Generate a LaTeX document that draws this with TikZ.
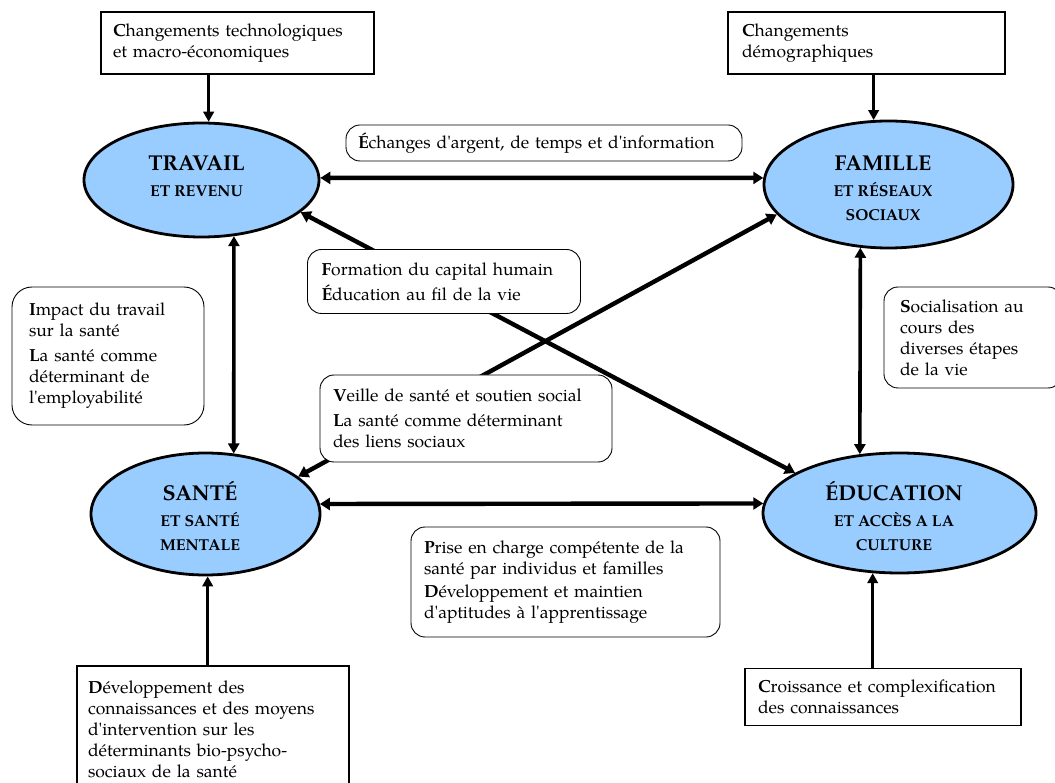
\documentclass[tikz,border=0pt]{standalone}
\usepackage{fontspec}
\setmainfont{TeX Gyre Pagella}
\usetikzlibrary{shapes.geometric,arrows.meta}
\pgfdeclarelayer{bg}
\pgfsetlayers{bg,main}
\definecolor{hubblue}{HTML}{99CCFF}
\newcommand{\ap}{\textquotesingle}
\tikzset{
  boxtext/.style={font=\fontsize{17.5}{21}\selectfont, align=left, inner ysep=0pt},
  sqbox/.style={boxtext, draw, line width=1.8pt, fill=white},
  rbox/.style={boxtext, draw, line width=0.9pt, rounded corners=14pt, fill=white},
  hub/.style={ellipse, draw, line width=2.8pt, fill=hubblue, inner sep=0pt},
  hubtext/.style={align=center, inner sep=0pt, font=\fontsize{15.8}{24}\bfseries\selectfont},
  link/.style={line width=4.4pt, {Triangle[length=10pt,width=12pt]}-{Triangle[length=10pt,width=12pt]}},
  vlink/.style={line width=3.6pt, {Triangle[length=10pt,width=11pt]}-{Triangle[length=10pt,width=11pt]}},
  feed/.style={line width=3pt, -{Triangle[length=10pt,width=10.5pt]}},
}
\begin{document}
\begin{tikzpicture}[x=1pt,y=-1pt]
\useasboundingbox (0,0) rectangle (1055,783);
\begin{pgfonlayer}{bg}
\fill[white] (0,0) rectangle (1055,783);
\end{pgfonlayer}

% hubs
\node[hub, minimum width=235pt, minimum height=114pt] (trav) at (201.5,180) {};
\node[hub, minimum width=249pt, minimum height=127pt] (fam) at (888.5,184.5) {};
\node[hub, minimum width=229pt, minimum height=122pt] (sant) at (205.5,514) {};
\node[hub, minimum width=273pt, minimum height=120pt] (edu) at (899.5,513) {};

\node[hubtext] (travt) at (196.5,176) {{\fontsize{21.5}{24}\selectfont TRAVAIL}\\[2pt] ET REVENU};
\node[hubtext] (famt) at (883,188.5) {{\fontsize{21.5}{24}\selectfont FAMILLE}\\[2pt] ET RÉSEAUX\\ SOCIAUX};
\node[hubtext] (santt) at (200,516) {{\fontsize{21.5}{24}\selectfont SANTÉ}\\[2pt] ET SANTÉ\\ MENTALE};
\node[hubtext] (edut) at (894,516) {{\fontsize{21.5}{24}\selectfont ÉDUCATION}\\[2pt] ET ACCÈS A LA\\ CULTURE};

% boxes
\node[sqbox, minimum width=273pt, minimum height=62pt, text width=249pt, inner xsep=12pt] (tl) at (237.5,43)
  {\textbf{C}hangements technologiques\\ et macro-économiques};
\node[sqbox, minimum width=277pt, minimum height=62pt, text width=249pt, inner xsep=14pt] (tr) at (866.5,43)
  {\textbf{C}hangements\\ démographiques};
\node[rbox, minimum width=396pt, minimum height=36pt, text width=372pt, inner xsep=12pt] (ech) at (544,143)
  {\textbf{É}changes d\ap argent, de temps et d\ap information};
\node[rbox, minimum width=273pt, minimum height=64pt, text width=245pt, inner xsep=14pt] (form) at (444,281.5)
  {\textbf{F}ormation du capital humain\\[4pt] \textbf{É}ducation au fil de la vie};
\node[rbox, rounded corners=20pt, minimum width=192pt, minimum height=138pt, text width=158pt, inner xsep=17pt] (imp) at (108,356)
  {\textbf{I}mpact du travail\\ sur la santé\\[4pt] \textbf{L}a santé comme\\ déterminant de\\ l\ap employabilité};
\node[rbox, minimum width=178pt, minimum height=101pt, text width=146pt, inner xsep=16pt] (soc) at (973,337.5)
  {\textbf{S}ocialisation au\\ cours des\\ diverses étapes\\ de la vie};
\node[rbox, minimum width=292pt, minimum height=87pt, text width=266pt, inner xsep=13pt] (veil) at (466,418.5)
  {\textbf{V}eille de santé et soutien social\\[4pt] \textbf{L}a santé comme déterminant\\ des liens sociaux};
\node[rbox, minimum width=309pt, minimum height=110pt, text width=283pt, inner xsep=13pt] (prise) at (565.5,582)
  {\textbf{P}rise en charge compétente de la\\ santé par individus et familles\\[2pt] \textbf{D}éveloppement et maintien\\ d\ap aptitudes à l\ap apprentissage};
\node[sqbox, minimum width=272pt, minimum height=126pt, text width=250pt, inner xsep=11pt] (bl) at (213,729)
  {\textbf{D}éveloppement des\\ connaissances et des moyens\\ d\ap intervention sur les\\ déterminants bio-psycho-\\ sociaux de la santé};
\node[sqbox, minimum width=276pt, minimum height=57pt, text width=250pt, inner xsep=13pt] (br) at (883,697)
  {\textbf{C}roissance et complexification\\ des connaissances};

% connectors between hubs
\draw[link] (trav.1) -- (fam.177);
\draw[link] (sant.5) -- (edu.176.2);
\draw[vlink] (trav.-60.2) -- (sant.65.1);
\draw[vlink] (fam.-114.8) -- (edu.124.5);
\begin{pgfonlayer}{bg}
\draw[link] (trav.-18.5) -- (edu.159.4);
\draw[link] (sant.22.6) -- (fam.-165);
\end{pgfonlayer}

% feeding arrows
\draw[feed] (tl.south -| trav.83.5) -- (trav.83.5);
\draw[feed] (tr.south -| fam.103.8) -- (fam.103.8);
\draw[feed] (bl.north -| sant.-88) -- (sant.-88);
\draw[feed] (br.north -| edu.-114.2) -- (edu.-114.2);
\end{tikzpicture}
\end{document}
